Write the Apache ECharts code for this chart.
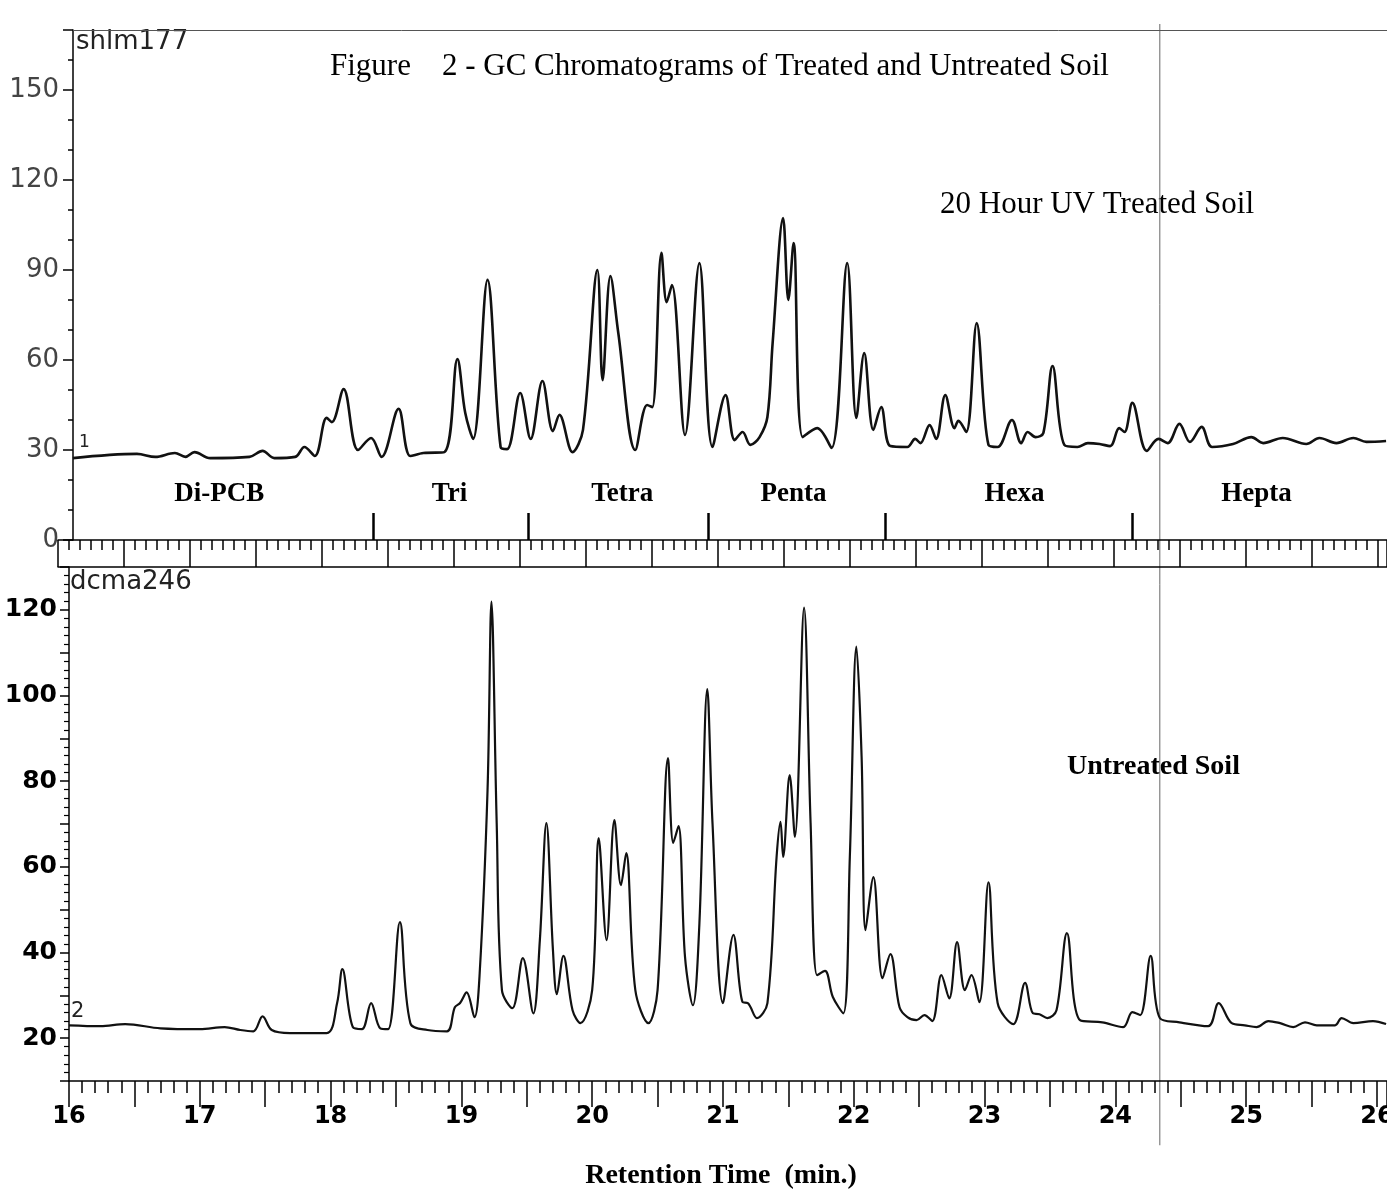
<!DOCTYPE html>
<html><head><meta charset="utf-8">
<script src="https://cdn.jsdelivr.net/npm/echarts@6/dist/echarts.min.js"></script>
<style>html,body{margin:0;padding:0;background:#fff}#c{width:1387px;height:1196px}</style>
</head><body><div id="c"></div>
<script>
// ---- Data ----
const treatedTime = [16.03,16.52,16.66,16.81,16.89,16.96,17.08,17.38,17.48,17.57,
  17.73,17.80,17.88,17.97,18.01,18.10,18.21,18.31,18.39,18.52,
  18.61,18.71,18.87,18.97,19.03,19.09,19.20,19.30,19.35,19.45,
  19.53,19.62,19.70,19.75,19.85,19.93,20.04,20.08,20.14,20.20,
  20.33,20.42,20.46,20.53,20.57,20.61,20.71,20.82,20.92,21.02,
  21.09,21.15,21.21,21.28,21.34,21.38,21.46,21.50,21.54,21.61,
  21.72,21.83,21.95,22.02,22.08,22.15,22.21,22.28,22.41,22.47,
  22.51,22.58,22.63,22.70,22.77,22.80,22.86,22.94,23.03,23.10,
  23.21,23.28,23.33,23.39,23.45,23.52,23.61,23.71,23.79,23.88,
  23.96,24.03,24.07,24.13,24.24,24.33,24.40,24.49,24.57,24.66,
  24.74,24.90,25.04,25.13,25.28,25.46,25.56,25.69,25.82,25.92,26.07];
const treatedSignal = [27.3,28.7,27.7,29.0,27.7,29.3,27.3,27.7,29.7,27.3,
  27.7,31.0,28.0,40.7,39.3,50.3,30.0,34.0,27.7,43.7,
  28.0,29.0,29.3,60.3,42.3,33.7,86.7,31.0,30.3,49.0,
  33.7,53.0,36.3,41.7,29.3,36.7,90.0,53.3,88.0,69.0,
  30.0,45.0,44.3,95.7,79.3,85.0,35.0,92.3,31.0,48.3,
  33.3,36.0,31.7,34.3,41.0,65.7,107.3,80.0,99.0,34.3,
  37.3,30.7,92.3,40.7,62.3,36.7,44.3,31.3,31.0,33.7,
  32.3,38.3,33.7,48.3,37.3,39.7,36.0,72.3,31.7,31.0,
  40.0,32.3,36.0,34.3,35.7,58.0,31.7,31.0,32.3,32.0,
  31.3,37.3,36.0,45.7,29.7,33.7,32.3,38.7,32.7,37.7,
  31.0,32.0,34.3,32.3,34.0,32.0,34.0,32.3,34.0,32.7,33.0];

const untreatedTime = [16.00,16.24,16.43,16.70,17.00,17.19,17.31,17.41,17.48,17.55,
  17.69,17.97,18.05,18.09,18.17,18.24,18.31,18.38,18.44,18.53,
  18.61,18.74,18.89,18.95,18.99,19.04,19.10,19.14,19.20,19.23,
  19.27,19.31,19.39,19.47,19.55,19.60,19.65,19.70,19.73,19.78,
  19.85,19.91,20.00,20.05,20.11,20.17,20.22,20.26,20.33,20.43,
  20.50,20.58,20.62,20.66,20.71,20.77,20.82,20.88,20.92,21.00,
  21.08,21.15,21.19,21.26,21.34,21.41,21.44,21.46,21.51,21.55,
  21.62,21.67,21.72,21.78,21.84,21.92,21.97,22.02,22.06,22.09,
  22.15,22.22,22.28,22.35,22.41,22.48,22.54,22.60,22.67,22.73,
  22.79,22.85,22.90,22.96,23.03,23.10,23.22,23.31,23.37,23.42,
  23.48,23.55,23.63,23.73,23.90,24.06,24.13,24.19,24.27,24.34,
  24.49,24.71,24.79,24.89,24.99,25.08,25.17,25.26,25.36,25.45,
  25.54,25.68,25.73,25.82,25.97,26.07];
const untreatedSignal = [23.0,22.8,23.3,22.3,22.1,22.6,21.9,21.6,25.1,21.9,
  21.2,21.2,28.2,36.1,22.6,22.1,28.2,22.3,22.1,47.1,
  23.5,21.9,21.6,27.2,28.2,30.7,24.9,35.2,77.9,121.9,
  70.2,31.2,27.0,38.7,25.8,42.9,70.2,40.6,30.3,39.2,
  26.5,23.5,31.2,66.7,42.9,70.9,55.7,63.2,31.2,23.5,
  31.2,85.4,65.6,69.5,38.9,27.7,46.9,101.5,70.2,28.2,
  44.1,28.4,28.2,24.7,28.2,62.3,70.5,62.3,81.4,67.0,
  120.5,70.2,34.7,35.7,29.6,25.8,62.3,111.4,85.7,45.2,
  57.6,34.0,39.6,27.2,24.9,24.2,25.4,24.0,34.7,29.3,
  42.4,31.2,34.7,28.4,56.4,28.2,23.3,32.9,25.8,25.6,
  24.7,26.5,44.5,24.2,23.7,22.6,26.1,25.4,39.2,24.7,
  23.7,22.8,28.2,23.5,23.0,22.6,24.0,23.5,22.6,23.7,
  23.0,23.0,24.7,23.5,24.0,23.3];

const groupNames = ['Di-PCB','Tri','Tetra','Penta','Hexa','Hepta'];
const groupTimes = [17.15,18.91,20.23,21.54,23.23,25.08];
const groupBoundaries = [18.33,19.51,20.89,22.24,24.13];
const referenceTime = 24.34;
const topTickLabels = [0,30,60,90,120,150];
const bottomTickLabels = [20,40,60,80,100,120];
const timeTickLabels = [16,17,18,19,20,21,22,23,24,25,26];

// ---- Chart ----
const chart = echarts.init(document.getElementById('c'), null, {renderer:'canvas'});
const BLACK = '#000';
const treated = treatedTime.map((t,i)=>[t, treatedSignal[i]]);
const untreated = untreatedTime.map((t,i)=>[t, untreatedSignal[i]]);

const serif = '"Liberation Serif","Times New Roman",serif';
const sans = '"DejaVu Sans",sans-serif';

function txt(id, text, x, y, font, align, fill){
  return {type:'text', id:id, silent:true, style:{text:text, x:x, y:y, font:font, fill:fill||'#000',
    textAlign:align||'left', align:align||'left', textVerticalAlign:'middle', verticalAlign:'middle'}};
}

const option = {
  animation:false,
  backgroundColor:'#fff',
  grid:[
    {left:73, top:30, width:1314, height:510, outerBoundsMode:'none'},
    {left:58, top:540, width:1329, height:27, outerBoundsMode:'none'},
    {left:69, top:567, width:1318, height:514, outerBoundsMode:'none'}
  ],
  xAxis:[
    {type:'value', gridIndex:0, min:16.031, max:26.077, position:'top',
     axisLine:{show:true, onZero:false, lineStyle:{color:'#555', width:1}},
     axisTick:{show:false}, axisLabel:{show:false}, splitLine:{show:false}},
    {type:'value', gridIndex:1, min:0, max:20.136, interval:1, position:'top',
     axisLine:{show:true, onZero:false, lineStyle:{color:BLACK, width:1.5}},
     axisTick:{show:true, inside:true, length:27, lineStyle:{color:BLACK, width:1.5}},
     minorTick:{show:true, splitNumber:6, length:10, lineStyle:{color:BLACK, width:1.5}},
     axisLabel:{show:false}, splitLine:{show:false}},
    {type:'value', gridIndex:1, min:0, max:20.136, position:'bottom',
     axisLine:{show:true, onZero:false, lineStyle:{color:BLACK, width:1.5}},
     axisTick:{show:false}, axisLabel:{show:false}, splitLine:{show:false}},
    {type:'value', gridIndex:2, min:16, max:26.077, interval:0.5, position:'bottom',
     axisLine:{show:true, onZero:false, lineStyle:{color:BLACK, width:1.5}},
     axisTick:{show:true, length:26, lineStyle:{color:BLACK, width:1.5}},
     minorTick:{show:true, splitNumber:5, length:12, lineStyle:{color:BLACK, width:1.5}},
     axisLabel:{show:true, margin:24, color:BLACK, fontFamily:sans, fontSize:24, fontWeight:'bold',
       formatter:v=> timeTickLabels.indexOf(Math.round(v*1000)/1000)>=0 ? String(v) : ''},
     splitLine:{show:false}}
  ],
  yAxis:[
    {type:'value', gridIndex:0, min:0, max:170, interval:30,
     axisLine:{show:true, onZero:false, lineStyle:{color:BLACK, width:1.5}},
     axisTick:{show:true, length:10, lineStyle:{color:BLACK, width:1.5}},
     minorTick:{show:true, splitNumber:3, length:5, lineStyle:{color:BLACK, width:1.5}},
     axisLabel:{show:true, margin:14, color:'#444', fontFamily:sans, fontSize:26,
       formatter:v=> topTickLabels.indexOf(v)>=0 ? String(v) : ''},
     splitLine:{show:false}},
    {type:'value', gridIndex:1, show:false, min:0, max:1, splitLine:{show:false}},
    {type:'value', gridIndex:2, min:10, max:130, interval:10,
     axisLine:{show:true, onZero:false, lineStyle:{color:BLACK, width:1.5}},
     axisTick:{show:true, length:9, lineStyle:{color:BLACK, width:1.5}},
     minorTick:{show:true, splitNumber:5, length:5, lineStyle:{color:BLACK, width:1.2}},
     axisLabel:{show:true, margin:12, color:BLACK, fontFamily:sans, fontSize:25, fontWeight:'bold',
       formatter:v=> bottomTickLabels.indexOf(v)>=0 ? String(v) : ''},
     splitLine:{show:false}}
  ],
  series:[
    {name:'20 Hour UV Treated Soil', type:'line', xAxisIndex:0, yAxisIndex:0, data:treated,
     showSymbol:false, smooth:0.35, silent:true,
     lineStyle:{color:'#111', width:2.6},
     markLine:{silent:true, symbol:['none','none'], label:{show:false},
       lineStyle:{color:BLACK, width:2.5, type:'solid'},
       data: groupBoundaries.map(t=>[{coord:[t,0]},{coord:[t,9]}])},
     markPoint:{silent:true, symbol:'circle', symbolSize:0,
       label:{show:true, position:'inside', formatter:'{b}', color:BLACK,
         fontFamily:serif, fontWeight:'bold', fontSize:27},
       data: groupNames.map((n,i)=>({name:n, coord:[groupTimes[i], 15.2]}))}
    },
    {name:'Untreated Soil', type:'line', xAxisIndex:3, yAxisIndex:2, data:untreated,
     showSymbol:false, smooth:0.35, silent:true,
     lineStyle:{color:'#111', width:2.2}}
  ],
  graphic:[
    txt('title','Figure    2 - GC Chromatograms of Treated and Untreated Soil',330,67,'31px '+serif),
    txt('treated','20 Hour UV Treated Soil',940,205,'31px '+serif),
    txt('untreated','Untreated Soil',1067,767,'bold 28px '+serif),
    txt('xname','Retention Time  (min.)',721,1176,'bold 28px '+serif,'center'),
    txt('f1','shlm177',76,42,'26px '+sans,'left','#222'),
    txt('f2','dcma246',70,582,'26px '+sans,'left','#222'),
    txt('n1','1',79,443,'17px '+sans,'left','#222'),
    txt('n2','2',71,1012,'21px '+sans,'left','#222')
  ]
};
chart.setOption(option);

// reference vertical line placed through the library's time scale
const px = chart.convertToPixel({xAxisIndex:3}, referenceTime);
const yTop = chart.convertToPixel({yAxisIndex:0}, 172);
const yBot = chart.convertToPixel({yAxisIndex:2}, -5);
chart.setOption({graphic:[{type:'line', id:'ref', silent:true,
  shape:{x1:px, y1:yTop, x2:px, y2:yBot}, style:{stroke:'#666', lineWidth:1}}]});
</script></body></html>
